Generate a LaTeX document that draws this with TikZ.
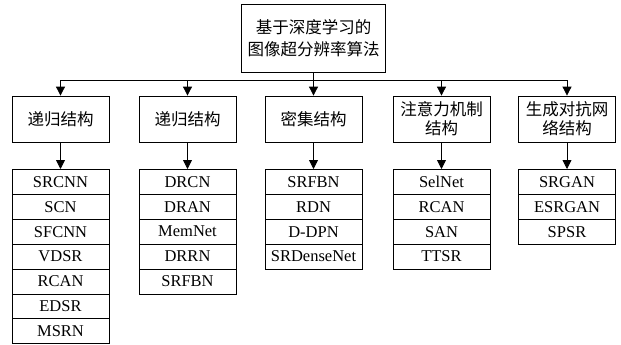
\documentclass[tikz,border=0pt]{standalone}
\usepackage{fontspec}
\setmainfont{Liberation Serif}
\newfontfamily\cjk{Noto Sans CJK SC}
\usetikzlibrary{arrows.meta, positioning}

\begin{document}
\begin{tikzpicture}[x=1pt, y=-1pt, line width=0.8pt,
    box/.style={draw, align=center, minimum width=97pt, minimum height=46pt, inner sep=1pt, font=\cjk\fontsize{16.5}{19}\selectfont},
    item/.style={draw, anchor=north, minimum width=97pt, minimum height=24.9pt, inner sep=0pt, font=\fontsize{16.5}{18}\selectfont},
    arr/.style={-{Triangle[width=9pt, length=9pt]}}]

    \useasboundingbox (0,0) rectangle (621,345);

    % --- top node ---
    \node[box, minimum width=144pt, minimum height=68pt, font=\cjk\fontsize{16.5}{22}\selectfont] (title) at (313.5,38) {基于深度学习的\\图像超分辨率算法};

    % --- categories ---
    \node[box] (rec1) at (60.5,119) {递归结构};
    \node[box] (rec2) at (187.5,119) {递归结构};
    \node[box] (dense) at (313.5,119) {密集结构};
    \node[box] (attn) at (441.5,119) {注意力机制\\结构};
    \node[box] (gan) at (567,119) {生成对抗网\\络结构};

    % --- bus and arrows to categories ---
    \coordinate (bus) at (313.5,80);
    \draw (title.south) -- (bus);
    \draw (rec1.north |- bus) -- (gan.north |- bus);
    \foreach \n in {rec1,rec2,dense,attn,gan}
        \draw[arr] (\n.north |- bus) -- (\n.north);

    % --- method lists ---
    \foreach \t [count=\i] in {SRCNN,SCN,SFCNN,VDSR,RCAN,EDSR,MSRN}
        \node[item] (a\i) at (60.5,{169+24.9*(\i-1)}) {\t};
    \foreach \t [count=\i] in {DRCN,DRAN,MemNet,DRRN,SRFBN}
        \node[item] (b\i) at (187.5,{169+24.9*(\i-1)}) {\t};
    \foreach \t [count=\i] in {SRFBN,RDN,D-DPN,SRDenseNet}
        \node[item] (c\i) at (313.5,{169+24.9*(\i-1)}) {\t};
    \foreach \t [count=\i] in {SelNet,RCAN,SAN,TTSR}
        \node[item] (d\i) at (441.5,{169+24.9*(\i-1)}) {\t};
    \foreach \t [count=\i] in {SRGAN,ESRGAN,SPSR}
        \node[item] (e\i) at (567,{169+24.9*(\i-1)}) {\t};

    % --- arrows to lists ---
    \draw[arr] (rec1) -- (a1);
    \draw[arr] (rec2) -- (b1);
    \draw[arr] (dense) -- (c1);
    \draw[arr] (attn) -- (d1);
    \draw[arr] (gan) -- (e1);

\end{tikzpicture}
\end{document}
